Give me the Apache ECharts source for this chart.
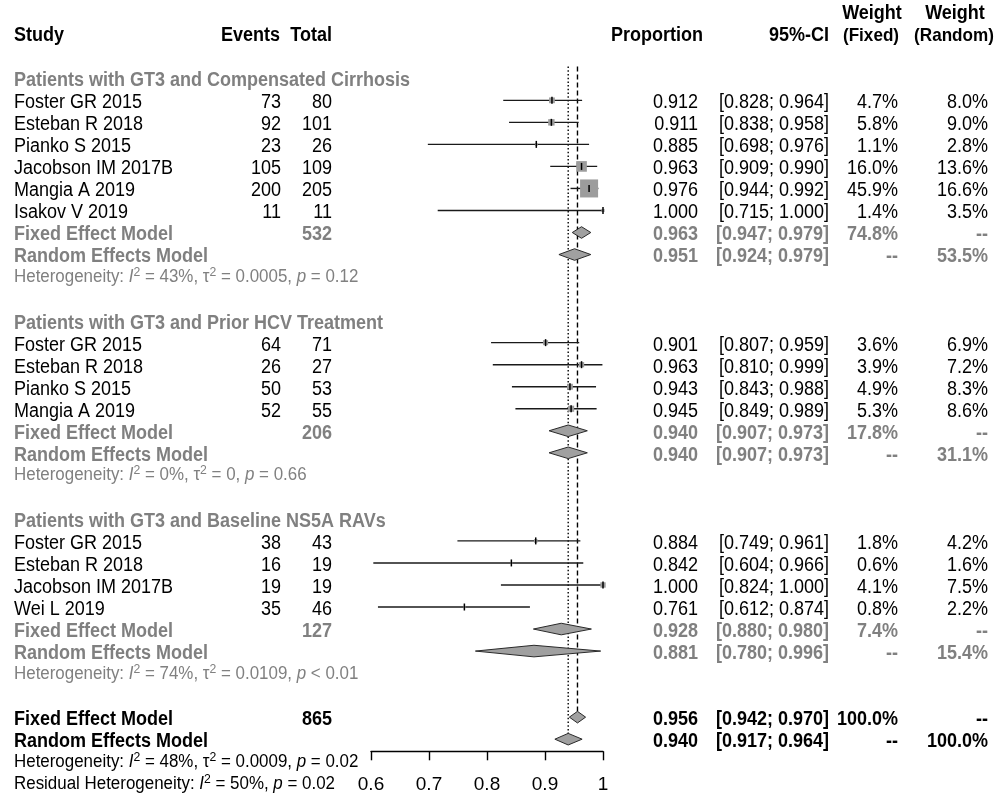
<!DOCTYPE html>
<html><head><meta charset="utf-8">
<script src="https://cdn.jsdelivr.net/npm/echarts@6/dist/echarts.min.js"></script>
<style>html,body{margin:0;padding:0;background:#fff}#c{width:1000px;height:810px}</style>
</head><body><div id="c"></div>
<script>
// ---------------- DATA ----------------
const groupLabels = [
  "Patients with GT3 and Compensated Cirrhosis",
  "Patients with GT3 and Prior HCV Treatment",
  "Patients with GT3 and Baseline NS5A RAVs"
];
const studyNames = [
  "Foster GR 2015","Esteban R 2018","Pianko S 2015","Jacobson IM 2017B","Mangia A 2019","Isakov V 2019",
  "Foster GR 2015","Esteban R 2018","Pianko S 2015","Mangia A 2019",
  "Foster GR 2015","Esteban R 2018","Jacobson IM 2017B","Wei L 2019"
];
const studyGroup = [0,0,0,0,0,0, 1,1,1,1, 2,2,2,2];
const studyEvents = [73,92,23,105,200,11, 64,26,50,52, 38,16,19,35];
const studyTotals = [80,101,26,109,205,11, 71,27,53,55, 43,19,19,46];
const studyProp  = [0.912,0.911,0.885,0.963,0.976,1.000, 0.901,0.963,0.943,0.945, 0.884,0.842,1.000,0.761];
const studyLower = [0.828,0.838,0.698,0.909,0.944,0.715, 0.807,0.810,0.843,0.849, 0.749,0.604,0.824,0.612];
const studyUpper = [0.964,0.958,0.976,0.990,0.992,1.000, 0.959,0.999,0.988,0.989, 0.961,0.966,1.000,0.874];
const studyWFixed  = [4.7,5.8,1.1,16.0,45.9,1.4, 3.6,3.9,4.9,5.3, 1.8,0.6,4.1,0.8];
const studyWRandom = [8.0,9.0,2.8,13.6,16.6,3.5, 6.9,7.2,8.3,8.6, 4.2,1.6,7.5,2.2];

const groupTotals = [532,206,127];
const groupFixedEst = [0.963,0.940,0.928];
const groupFixedLo  = [0.947,0.907,0.880];
const groupFixedHi  = [0.979,0.973,0.980];
const groupFixedW   = [74.8,17.8,7.4];
const groupRandEst = [0.951,0.940,0.881];
const groupRandLo  = [0.924,0.907,0.780];
const groupRandHi  = [0.979,0.973,0.996];
const groupRandW   = [53.5,31.1,15.4];
const groupI2   = ["43%","0%","74%"];
const groupTau2 = ["0.0005","0","0.0109"];
const groupP    = ["= 0.12","= 0.66","< 0.01"];

const overallTotal = 865;
const overallFixed = [0.956,0.942,0.970];
const overallRandom = [0.940,0.917,0.964];
const overallI2 = "48%", overallTau2 = "0.0009", overallP = "= 0.02";
const residualI2 = "50%", residualP = "= 0.02";

const xTicks = [0.6,0.7,0.8,0.9,1];

// ---------------- LAYOUT ----------------
const FONT = "'Liberation Sans', Arial, Helvetica, sans-serif";
const GRAY = '#808080';
const COLX = {study:14, events:281, total:332, prop:698, ci:829, wf:898, wr:988};
const SX = 0.9;      // horizontal squeeze of the original text
const FS = 20;
const SQ_K = 2.66;

const f3 = v => v.toFixed(3);
const ciTxt = (lo, hi) => "[" + f3(lo) + "; " + f3(hi) + "]";
const pct = v => v.toFixed(1) + "%";

const TEXTS = [];
function T(row, x, text, opt) {
  opt = opt || {};
  TEXTS.push(Object.assign({row, x, text, align:'left', bold:false, color:'#000', fs:FS, sx:SX, dy:2.4}, opt));
}
function het(row, text, color) {
  TEXTS.push({row, x:COLX.study, text, align:'left', bold:false, color, fs:18, sx:0.94, dy:0.5, rich:true});
}

// headers
T(-1.95, COLX.study, "Study", {bold:true, dy:0});
T(-1.95, 280, "Events", {bold:true, align:'right', dy:0});
T(-1.95, COLX.total, "Total", {bold:true, align:'right', dy:0});
T(-1.95, 703, "Proportion", {bold:true, align:'right', dy:0});
T(-1.95, COLX.ci, "95%-CI", {bold:true, align:'right', dy:0});
T(-2.93, 872, "Weight", {bold:true, align:'center', dy:0});
T(-1.95, 871, "(Fixed)", {bold:true, align:'center', dy:0, fs:19});
T(-2.93, 955, "Weight", {bold:true, align:'center', dy:0});
T(-1.95, 954, "(Random)", {bold:true, align:'center', dy:0, fs:19});

const STUDY_ROWS = [], DIAMONDS = [];
let row = 0;
groupLabels.forEach((lab, g) => {
  T(row, COLX.study, lab, {bold:true, color:GRAY});
  row++;
  studyNames.forEach((n, i) => {
    if (studyGroup[i] !== g) return;
    T(row, COLX.study, n);
    T(row, COLX.events, String(studyEvents[i]), {align:'right'});
    T(row, COLX.total, String(studyTotals[i]), {align:'right'});
    T(row, COLX.prop, f3(studyProp[i]), {align:'right'});
    T(row, COLX.ci, ciTxt(studyLower[i], studyUpper[i]), {align:'right'});
    T(row, COLX.wf, pct(studyWFixed[i]), {align:'right'});
    T(row, COLX.wr, pct(studyWRandom[i]), {align:'right'});
    STUDY_ROWS.push([studyLower[i], studyUpper[i], row, studyProp[i], studyWFixed[i]]);
    row++;
  });
  const gs = {bold:true, color:GRAY, align:'right'};
  T(row, COLX.study, "Fixed Effect Model", {bold:true, color:GRAY});
  T(row, COLX.total, String(groupTotals[g]), gs);
  T(row, COLX.prop, f3(groupFixedEst[g]), gs);
  T(row, COLX.ci, ciTxt(groupFixedLo[g], groupFixedHi[g]), gs);
  T(row, COLX.wf, pct(groupFixedW[g]), gs);
  T(row, COLX.wr, "--", gs);
  DIAMONDS.push([groupFixedLo[g], groupFixedHi[g], row, groupFixedEst[g]]);
  row++;
  T(row, COLX.study, "Random Effects Model", {bold:true, color:GRAY});
  T(row, COLX.prop, f3(groupRandEst[g]), gs);
  T(row, COLX.ci, ciTxt(groupRandLo[g], groupRandHi[g]), gs);
  T(row, COLX.wf, "--", gs);
  T(row, COLX.wr, pct(groupRandW[g]), gs);
  DIAMONDS.push([groupRandLo[g], groupRandHi[g], row, groupRandEst[g]]);
  row++;
  het(row, "Heterogeneity: {i|I}{s|2} = " + groupI2[g] + ", {n|τ}{s|2} = " + groupTau2[g] + ", {i|p} " + groupP[g], GRAY);
  row += 2;
});
const fixedRow = row;
const ob = {bold:true, align:'right'};
T(row, COLX.study, "Fixed Effect Model", {bold:true});
T(row, COLX.total, String(overallTotal), ob);
T(row, COLX.prop, f3(overallFixed[0]), ob);
T(row, COLX.ci, ciTxt(overallFixed[1], overallFixed[2]), ob);
T(row, COLX.wf, "100.0%", ob);
T(row, COLX.wr, "--", ob);
DIAMONDS.push([overallFixed[1], overallFixed[2], row, overallFixed[0]]);
row++;
const randomRow = row;
T(row, COLX.study, "Random Effects Model", {bold:true});
T(row, COLX.prop, f3(overallRandom[0]), ob);
T(row, COLX.ci, ciTxt(overallRandom[1], overallRandom[2]), ob);
T(row, COLX.wf, "--", ob);
T(row, COLX.wr, "100.0%", ob);
DIAMONDS.push([overallRandom[1], overallRandom[2], row, overallRandom[0]]);
row++;
het(row, "Heterogeneity: {i|I}{s|2} = " + overallI2 + ", {n|τ}{s|2} = " + overallTau2 + ", {i|p} " + overallP, '#000');
row++;
het(row, "Residual Heterogeneity: {i|I}{s|2} = " + residualI2 + ", {i|p} " + residualP, '#000');

// reference lines: [value, fromRow, toRow, dashed?]
const REFLINES = [
  [overallFixed[0], -0.53, fixedRow - 0.25, 1],
  [overallRandom[0], -0.53, randomRow - 0.25, 0]
];

// ---------------- CHART ----------------
const chart = echarts.init(document.getElementById('c'), null, {renderer:'canvas'});

function renderStudy(params, api) {
  const r = api.value(2);
  const lo = api.coord([api.value(0), r]);
  const hi = api.coord([api.value(1), r]);
  const pt = api.coord([api.value(3), r]);
  const s = SQ_K * Math.sqrt(api.value(4));
  return {type:'group', children:[
    {type:'line', shape:{x1:lo[0], y1:lo[1], x2:hi[0], y2:hi[1]}, style:{stroke:'#1a1a1a', lineWidth:1.4}},
    {type:'rect', shape:{x:pt[0]-s/2, y:pt[1]-s/2, width:s, height:s}, style:{fill:'#9c9c9c'}},
    {type:'line', shape:{x1:pt[0], y1:pt[1]-3.5, x2:pt[0], y2:pt[1]+3.5}, style:{stroke:'#000', lineWidth:1.5}}
  ]};
}
function renderDiamond(params, api) {
  const r = api.value(2);
  const lo = api.coord([api.value(0), r]);
  const hi = api.coord([api.value(1), r]);
  const pt = api.coord([api.value(3), r]);
  const h = 5.8;
  return {type:'polygon', shape:{points:[[lo[0], lo[1]], [pt[0], pt[1]-h], [hi[0], hi[1]], [pt[0], pt[1]+h]]},
    style:{fill:'#a0a0a0', stroke:'#2a2a2a', lineWidth:1}};
}
function renderRef(params, api) {
  const a = api.coord([api.value(0), api.value(1)]);
  const b = api.coord([api.value(0), api.value(2)]);
  const dashed = api.value(3) === 1;
  return {type:'line', shape:{x1:a[0], y1:a[1], x2:b[0], y2:b[1]},
    style:{stroke:'#000', lineWidth:1.4, lineDash: dashed ? [5,3] : [1.5,2.2]}};
}
function renderText(params, api) {
  const t = TEXTS[params.dataIndex];
  const y = api.coord([xTicks[0], t.row])[1] + t.dy;
  const weight = t.bold ? 'bold' : 'normal';
  const style = {
    text: t.text, x: 0, y: 0, fill: t.color,
    fontFamily: FONT, fontSize: t.fs, fontWeight: weight,
    align: t.align, verticalAlign: 'middle',
    textAlign: t.align, textVerticalAlign: 'middle'
  };
  if (t.rich) {
    style.lineHeight = 22;
    style.rich = {
      i: {fontStyle:'italic', fontSize:t.fs, fontFamily:FONT, fill:t.color, lineHeight:22},
      n: {fontSize:t.fs, fontFamily:FONT, fill:t.color, lineHeight:22},
      s: {fontSize:13, fontFamily:FONT, fill:t.color, lineHeight:13, verticalAlign:'top'}
    };
  }
  return {type:'text', x: t.x, y: y, scaleX: t.sx, scaleY: 1, style};
}

chart.setOption({
  backgroundColor:'#fff',
  animation:false,
  grid:{left:371, width:232, top:12.21, bottom:58.7, containLabel:false},
  xAxis:{
    type:'value', position:'bottom', min:xTicks[0], max:xTicks[xTicks.length-1], interval:0.1,
    axisLine:{show:true, onZero:false, lineStyle:{color:'#000', width:1.4}},
    axisTick:{show:true, inside:false, length:9, lineStyle:{color:'#000', width:1.4}},
    splitLine:{show:false},
    axisLabel:{margin:24, fontSize:19, fontFamily:FONT, color:'#000',
      formatter: v => { const k = xTicks.find(t => Math.abs(t - v) < 1e-9); return k === undefined ? '' : String(k); }}
  },
  yAxis:{type:'value', min:-3, max:30.55, inverse:true, show:false},
  series:[
    {type:'custom', name:'ref', renderItem:renderRef, data:REFLINES, encode:{x:0, y:[1,2]}, z:1, silent:true},
    {type:'custom', name:'studies', renderItem:renderStudy, data:STUDY_ROWS, encode:{x:[0,1,3], y:2}, z:2, silent:true},
    {type:'custom', name:'pooled', renderItem:renderDiamond, data:DIAMONDS, encode:{x:[0,1,3], y:2}, z:3, silent:true},
    {type:'custom', name:'text', renderItem:renderText, data:TEXTS.map(t => [xTicks[0], t.row]), encode:{x:0, y:1}, z:4, silent:true, clip:false}
  ]
});
</script>
</body></html>
